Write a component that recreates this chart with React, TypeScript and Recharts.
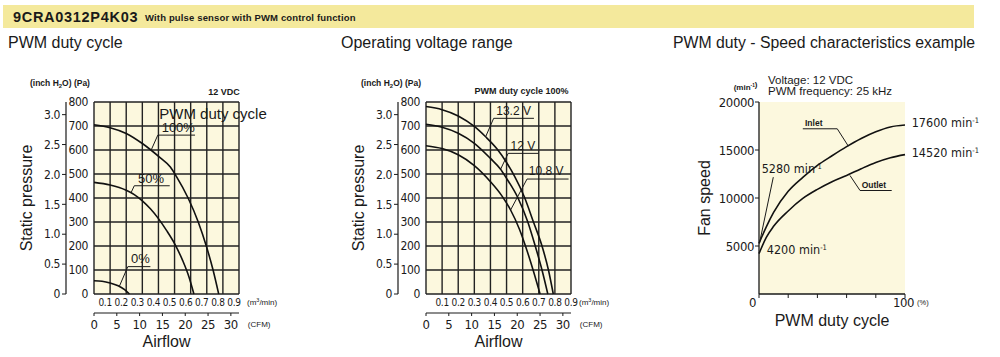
import React from 'react'
import {
  LineChart, Line, XAxis, YAxis, CartesianGrid, ReferenceDot, ReferenceLine,
} from 'recharts'

const SANS = '"Liberation Sans", Arial, Helvetica, sans-serif'
const NARROW = '"Liberation Sans Narrow", "DejaVu Sans Condensed", "Liberation Sans", sans-serif'
const INK = '#1a1a1a'
const CREAM = '#fcf8de'
const BAND = '#f4e99c'

// PWM duty cycle chart (12 VDC): airflow m³/min -> static pressure Pa
const duty100Flow = [0, 0.1, 0.2, 0.3, 0.41, 0.474, 0.512, 0.584, 0.647, 0.697, 0.739, 0.774]
const duty100Pa = [705, 693, 669, 627, 568, 529, 489, 400, 300, 200, 100, 0]
const duty50Flow = [0, 0.1, 0.2, 0.25, 0.3, 0.35, 0.4, 0.45, 0.5, 0.55, 0.59, 0.62]
const duty50Pa = [465, 454, 432, 414, 388, 355, 314, 265, 210, 140, 70, 0]
const duty0Flow = [0, 0.05, 0.1, 0.15, 0.19, 0.22]
const duty0Pa = [55, 53, 46, 34, 18, 0]

// Operating voltage range (PWM duty 100%)
const v132Flow = [0, 0.1, 0.2, 0.3, 0.37, 0.44, 0.5, 0.55, 0.61, 0.667, 0.72, 0.76, 0.79]
const v132Pa = [781, 768, 742, 698, 655, 605, 548, 490, 405, 300, 200, 100, 0]
const v12Flow = [0, 0.1, 0.2, 0.3, 0.4, 0.463, 0.5, 0.571, 0.632, 0.678, 0.72, 0.756]
const v12Pa = [707, 695, 670, 628, 565, 520, 482, 400, 300, 200, 100, 0]
const v108Flow = [0, 0.1, 0.2, 0.3, 0.4, 0.47, 0.525, 0.58, 0.62, 0.667, 0.708]
const v108Pa = [618, 606, 580, 535, 468, 410, 350, 270, 195, 95, 0]

// PWM duty (%) -> fan speed (min⁻¹)
const dutyPct = [0, 5, 10, 20, 30, 40, 50, 60, 70, 80, 90, 100]
const inletRpm = [5280, 7000, 8500, 10700, 12150, 13400, 14400, 15350, 16200, 16900, 17400, 17600]
const outletRpm = [4200, 5900, 7050, 8650, 9950, 10900, 11700, 12350, 13050, 13700, 14200, 14520]

const paTicks = [0, 100, 200, 300, 400, 500, 600, 700, 800]
const inchTicks = [0, 0.5, 1, 1.5, 2, 2.5, 3]
const flowTicks = [0, 0.1, 0.2, 0.3, 0.4, 0.5, 0.6, 0.7, 0.8, 0.9]
const cfmTicks = [0, 5, 10, 15, 20, 25, 30]
const rpmTicks = [5000, 10000, 15000, 20000]
const dutyTicks = [0, 20, 40, 60, 80, 100]

const PA_PER_INCH = 249.089
const M3MIN_PER_CFM = 0.0283168
const FLOW_MAX = 0.9
const PA_MAX = 800

const pq = (xs: number[], ys: number[]) => xs.map((q, i) => ({ q, p: ys[i] }))
const speed = (ys: number[]) => dutyPct.map((d, i) => ({ d, r: ys[i] }))
// corners of the plot in CFM / inch H2O, so the secondary axes get drawn
const imperialFrame = [
  { c: 0, h: 0 },
  { c: FLOW_MAX / M3MIN_PER_CFM, h: PA_MAX / PA_PER_INCH },
]

type Ids = { xAxisId?: string | number; yAxisId?: string | number }
const PQ: Ids = { xAxisId: 'a_flow', yAxisId: 'a_pa' }
const SP: Ids = {}

function note(key: string, ids: Ids, x: number, y: number, content: React.ReactNode,
  size: number, anchor = 'start', family = SANS, weight: number | string = 400) {
  return (
    <ReferenceDot key={key} {...ids} x={x} y={y} r={0} ifOverflow="visible"
      shape={(p: any) => (
        <text x={p.cx} y={p.cy} fontSize={size} fontFamily={family} fontWeight={weight}
          fill={INK} textAnchor={anchor}>{content}</text>
      )} />
  )
}

function leader(key: string, ids: Ids, pts: number[][]) {
  return pts.slice(1).map((pt, i) => (
    <ReferenceLine key={key + i} {...ids} ifOverflow="visible" stroke={INK} strokeWidth={1}
      segment={[{ x: pts[i][0], y: pts[i][1] }, { x: pt[0], y: pt[1] }]} />
  ))
}

const minInv = (n: string) => (
  <>{n} min<tspan dy={-4} fontSize="0.6em">-1</tspan></>
)

const inchPa = (
  <>(inch H<tspan dy={2} fontSize="0.7em">2</tspan><tspan dy={-2}>O)  (Pa)</tspan></>
)

const sideLabel = (text: string, dx: number) => (props: any) => {
  const vb = props.viewBox
  const x = vb.x + dx
  const y = vb.y + vb.height / 2
  return (
    <text x={x} y={y} transform={`rotate(-90 ${x} ${y})`} textAnchor="middle"
      dominantBaseline="central" fontSize={16} fontFamily={SANS} fill={INK}>{text}</text>
  )
}

const bottomLabel = (text: string, fromBottom: number) => (props: any) => {
  const vb = props.viewBox
  return (
    <text x={vb.x + vb.width / 2} y={vb.y + vb.height - fromBottom} textAnchor="middle"
      fontSize={16} fontFamily={SANS} fill={INK}>{text}</text>
  )
}

const flowTick = (shift: number) => (p: any) => {
  const v = p.payload.value
  return (
    <g>
      {v !== 0 && (
        <text x={p.x + shift} y={p.y} dy="0.71em" textAnchor="middle" fontSize={10}
          letterSpacing={-0.3} fontFamily={NARROW} fill={INK}>{v.toFixed(1)}</text>
      )}
      {v === FLOW_MAX && (
        <text x={p.x + 8} y={p.y} dy="0.71em" fontSize={8} fontFamily={SANS} fill={INK}>
          (m<tspan dy={-3} fontSize={5.5}>3</tspan><tspan dy={3}>/min)</tspan>
        </text>
      )}
    </g>
  )
}

const cfmTick = (p: any) => {
  const v = p.payload.value
  return (
    <g>
      <text x={p.x} y={p.y} dy="0.71em" textAnchor="middle" fontSize={13}
        letterSpacing={-0.4} fontFamily={NARROW} fill={INK}>{v}</text>
      {v === 30 && (
        <text x={p.x + 17} y={p.y} dy="0.9em" fontSize={8} fontFamily={SANS} fill={INK}>(CFM)</text>
      )}
    </g>
  )
}

const dutyTick = (p: any) => {
  const v = p.payload.value
  if (v !== 0 && v !== 100) return <g />
  return (
    <g>
      <text x={v === 0 ? p.x - 6.5 : p.x - 1.5} y={p.y} dy="0.71em" textAnchor="middle"
        fontSize={13} letterSpacing={-0.4} fontFamily={NARROW} fill={INK}>{v}</text>
      {v === 100 && (
        <text x={p.x + 12} y={p.y} dy="0.9em" fontSize={7.5} fontFamily={SANS} fill={INK}>(%)</text>
      )}
    </g>
  )
}

const axisTick = { fontSize: 12, fill: INK, fontFamily: NARROW, letterSpacing: -0.4 }

type Curve = { key: string; flow: number[]; pa: number[] }

function PressureChart({ left, curves, notes, flowShift }: {
  left: number; curves: Curve[]; notes: React.ReactNode[]; flowShift: number
}) {
  return (
    <div style={{ position: 'absolute', left, top: 60 }}>
      <LineChart width={330} height={297} margin={{ top: 42, right: 91, left: 10, bottom: 0 }}>
        <CartesianGrid xAxisId="a_flow" yAxisId="a_pa" fill={CREAM} fillOpacity={1}
          stroke="#222" strokeWidth={1.4} />
        <XAxis xAxisId="b_cfm" dataKey="c" type="number" domain={[0, FLOW_MAX / M3MIN_PER_CFM]}
          ticks={cfmTicks} interval={0} height={44} axisLine={{ stroke: INK, strokeWidth: 1.2 }}
          tickLine={{ stroke: INK }} tickSize={3} tickMargin={4} tick={cfmTick}
          label={bottomLabel('Airflow', 10)} />
        <XAxis xAxisId="a_flow" dataKey="q" type="number" domain={[0, FLOW_MAX]} ticks={flowTicks}
          interval={0} height={19} axisLine={false} tickLine={false} tickSize={0}
          tickMargin={5} tick={flowTick(flowShift)} />
        <YAxis yAxisId="b_inch" type="number" domain={[0, PA_MAX / PA_PER_INCH]} ticks={inchTicks}
          interval={0} width={56} axisLine={{ stroke: INK, strokeWidth: 1.2 }}
          tickLine={{ stroke: INK }} tickSize={4} tickMargin={2} tick={axisTick}
          tickFormatter={(v: number) => (v === 0 ? '0' : v.toFixed(1))}
          label={sideLabel('Static pressure', 16)} />
        <YAxis yAxisId="a_pa" type="number" domain={[0, PA_MAX]} ticks={paTicks} interval={0}
          width={28} axisLine={false} tickLine={false} tickSize={0} tickMargin={6}
          tick={axisTick} />
        <Line xAxisId="b_cfm" yAxisId="b_inch" data={imperialFrame} dataKey="h" stroke="none"
          dot={false} activeDot={false} isAnimationActive={false} />
        {curves.map((c) => (
          <Line key={c.key} xAxisId="a_flow" yAxisId="a_pa" data={pq(c.flow, c.pa)} dataKey="p"
            type="monotone" stroke="#111" strokeWidth={1.6} dot={false} activeDot={false}
            isAnimationActive={false} />
        ))}
        {notes}
      </LineChart>
    </div>
  )
}

const dutyNotes = [
  note('unit', PQ, -0.025, 867, inchPa, 8.5, 'end', SANS, 700),
  note('vdc', PQ, 0.905, 830, '12 VDC', 9, 'end', SANS, 700),
  note('title', PQ, 0.405, 729, 'PWM duty cycle', 15),
  note('d100', PQ, 0.42, 675, '100%', 13),
  ...leader('l100', PQ, [[0.627, 662], [0.396, 662], [0.355, 600]]),
  note('d50', PQ, 0.273, 461, '50%', 13),
  ...leader('l50', PQ, [[0.47, 451], [0.25, 451], [0.23, 422]]),
  note('d0', PQ, 0.23, 128, '0%', 13),
  ...leader('l0', PQ, [[0.35, 114], [0.21, 114], [0.158, 33]]),
]

const voltNotes = [
  note('unit', PQ, -0.031, 867, inchPa, 8.5, 'end', SANS, 700),
  note('duty', PQ, 0.885, 832, 'PWM duty cycle 100%', 9, 'end', SANS, 700),
  note('v132', PQ, 0.436, 746, '13.2 V', 12),
  ...leader('l132', PQ, [[0.67, 732], [0.42, 732], [0.37, 655]]),
  note('v12', PQ, 0.525, 600, '12 V', 12),
  ...leader('l12', PQ, [[0.7, 586], [0.51, 586], [0.463, 520]]),
  note('v108', PQ, 0.638, 496, '10.8 V', 12),
  ...leader('l108', PQ, [[0.885, 479], [0.627, 479], [0.525, 350]]),
]

export default function App() {
  return (
    <div style={{ position: 'absolute', left: 0, top: 0, width: 1000, height: 357,
      background: '#fff', overflow: 'hidden' }}>
      <svg width={1000} height={357} style={{ position: 'absolute', left: 0, top: 0 }}>
        <rect x={3} y={5} width={971} height={23} fill={BAND} />
        <text x={13} y={22} fontSize={14.5} fontWeight={700} letterSpacing={0.7}
          fontFamily={SANS} fill={INK}>9CRA0312P4K03</text>
        <text x={145} y={21} fontSize={9.5} fontWeight={700} letterSpacing={0.15}
          fontFamily={SANS} fill={INK}>With pulse sensor with PWM control function</text>
        <text x={8} y={48} fontSize={16} fontFamily={SANS} fill={INK}>PWM duty cycle</text>
        <text x={341} y={48} fontSize={16} fontFamily={SANS} fill={INK}>Operating voltage range</text>
        <text x={673} y={48} fontSize={15.8} fontFamily={SANS} fill={INK}>
          PWM duty - Speed characteristics example</text>
      </svg>

      <PressureChart left={0} flowShift={-5} notes={dutyNotes} curves={[
        { key: 'd100', flow: duty100Flow, pa: duty100Pa },
        { key: 'd50', flow: duty50Flow, pa: duty50Pa },
        { key: 'd0', flow: duty0Flow, pa: duty0Pa },
      ]} />

      <PressureChart left={332} flowShift={0} notes={voltNotes} curves={[
        { key: 'v132', flow: v132Flow, pa: v132Pa },
        { key: 'v12', flow: v12Flow, pa: v12Pa },
        { key: 'v108', flow: v108Flow, pa: v108Pa },
      ]} />

      <div style={{ position: 'absolute', left: 665, top: 60 }}>
        <LineChart width={335} height={297} margin={{ top: 42, right: 95, left: 10, bottom: 0 }}>
          <CartesianGrid horizontal={false} vertical={false} fill={CREAM} fillOpacity={1} />
          <XAxis dataKey="d" type="number" domain={[0, 100]} ticks={dutyTicks} interval={0}
            height={63} axisLine={{ stroke: INK, strokeWidth: 1.3 }} tickLine={{ stroke: INK }}
            tickSize={4} tickMargin={0} tick={dutyTick}
            label={bottomLabel('PWM duty cycle', 31.5)} />
          <YAxis type="number" domain={[0, 20000]} ticks={rpmTicks} interval={0} width={84}
            axisLine={{ stroke: INK, strokeWidth: 1.3 }} tickLine={{ stroke: INK }}
            tickSize={4} tickMargin={1} tick={{ ...axisTick, fontSize: 13 }}
            label={sideLabel('Fan speed', 29)} />
          <Line data={speed(inletRpm)} dataKey="r" type="monotone" stroke="#111"
            strokeWidth={1.6} dot={false} activeDot={false} isAnimationActive={false} />
          <Line data={speed(outletRpm)} dataKey="r" type="monotone" stroke="#111"
            strokeWidth={1.6} dot={false} activeDot={false} isAnimationActive={false} />
          {note('unit', SP, -1, 21300, <>(min<tspan dy={-3} fontSize="0.6em">-1</tspan>)</>, 8, 'end', SANS, 700)}
          {note('volt', SP, 6.2, 21900, 'Voltage: 12 VDC', 11.5)}
          {note('freq', SP, 6.2, 20680, 'PWM frequency: 25 kHz', 11.5)}
          {note('inlet', SP, 31.5, 17480, 'Inlet', 8.5, 'start', SANS, 700)}
          {leader('lin', SP, [[30, 17210], [53.6, 17210], [61.2, 15400]])}
          {note('outlet', SP, 70.3, 11020, 'Outlet', 8.5, 'start', SANS, 700)}
          {leader('lout', SP, [[90.9, 10780], [69.2, 10780], [62.3, 12350]])}
          {note('r5280', SP, 1.8, 12630, minInv('5280'), 12.5, 'start', NARROW)}
          {leader('l5280', SP, [[9.8, 12170], [0.3, 5280]])}
          {note('r4200', SP, 5.3, 4190, minInv('4200'), 12.5, 'start', NARROW)}
          {note('r17600', SP, 104.6, 17370, minInv('17600'), 12.5, 'start', NARROW)}
          {note('r14520', SP, 104.6, 14320, minInv('14520'), 12.5, 'start', NARROW)}
        </LineChart>
      </div>
    </div>
  )
}
